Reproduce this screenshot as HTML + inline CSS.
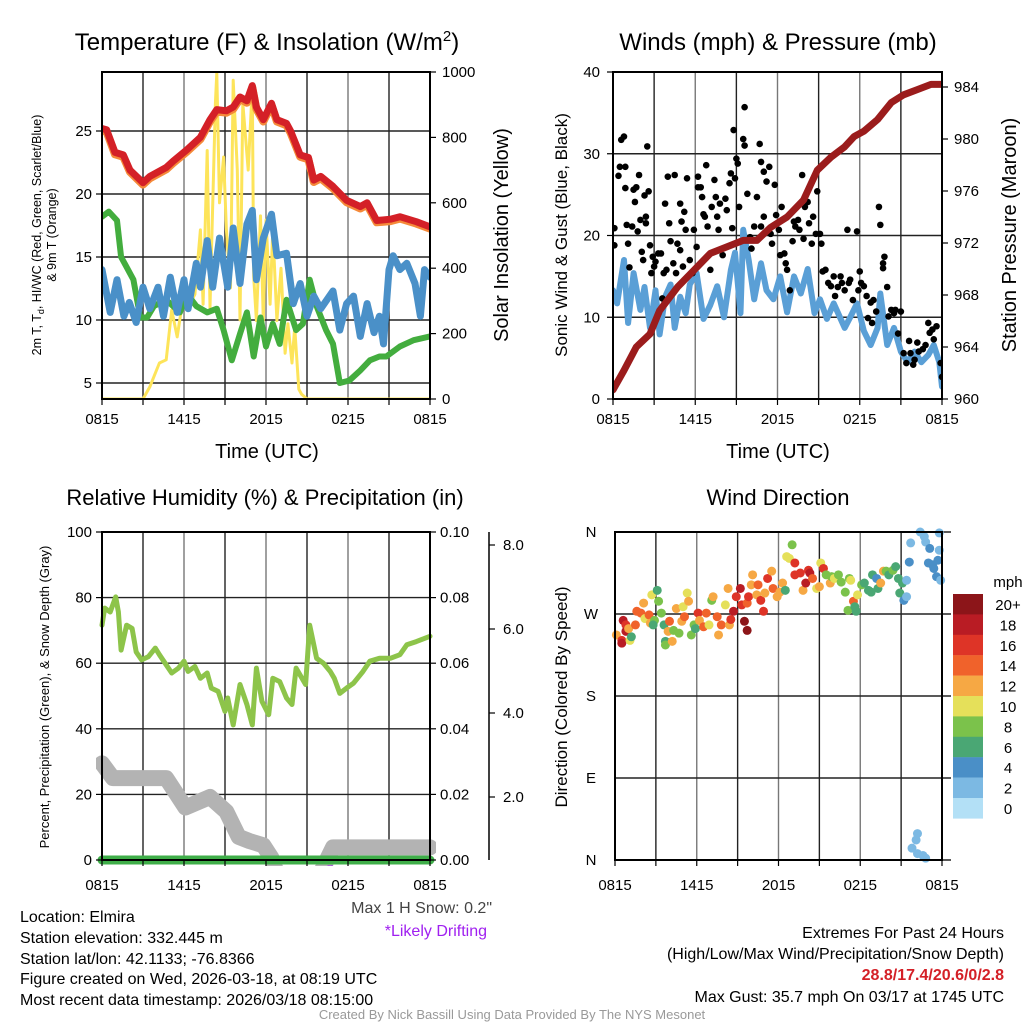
<!DOCTYPE html>
<html><head><meta charset="utf-8"><style>
html,body{margin:0;padding:0;background:#fff;}
svg{display:block;font-family:"Liberation Sans",sans-serif;}
</style></head><body>
<svg id="fig" width="1024" height="1024" viewBox="0 0 1024 1024" xmlns="http://www.w3.org/2000/svg">
<defs>
<clipPath id="c1"><rect x="102" y="72" width="328" height="327"/></clipPath>
<clipPath id="c2"><rect x="613" y="72" width="329" height="327"/></clipPath>
<clipPath id="c3"><rect x="96" y="532" width="340" height="334"/></clipPath>
<clipPath id="c4"><rect x="600" y="525" width="352" height="345"/></clipPath>
</defs>
<g id="grids"></g>
<g id="series"></g>
<g id="axes"></g>
<g id="texts">
<text x="267" y="50" font-size="24" text-anchor="middle">Temperature (F) &amp; Insolation (W/m<tspan dy="-9" font-size="15">2</tspan><tspan dy="9">)</tspan></text>
<text x="778" y="50" font-size="24" text-anchor="middle">Winds (mph) &amp; Pressure (mb)</text>
<text x="265" y="505" font-size="22" text-anchor="middle">Relative Humidity (%) &amp; Precipitation (in)</text>
<text x="778" y="505" font-size="22" text-anchor="middle">Wind Direction</text>
<text x="267" y="458" font-size="20" text-anchor="middle">Time (UTC)</text>
<text x="778" y="458" font-size="20" text-anchor="middle">Time (UTC)</text>
<text transform="translate(41,235) rotate(-90)" font-size="12.5" text-anchor="middle">2m T, T<tspan dy="3" font-size="9">d</tspan><tspan dy="-3">, HI/WC (Red, Green, Scarlet/Blue)</tspan></text>
<text transform="translate(56,235) rotate(-90)" font-size="12.5" text-anchor="middle">&amp; 9m T (Orange)</text>
<text transform="translate(508,235) rotate(-90)" font-size="20" text-anchor="middle">Solar Insolation (Yellow)</text>
<text transform="translate(567,235) rotate(-90)" font-size="17" text-anchor="middle">Sonic Wind &amp; Gust (Blue, Black)</text>
<text transform="translate(1016,235) rotate(-90)" font-size="20" text-anchor="middle">Station Pressure (Maroon)</text>
<text transform="translate(49,697) rotate(-90)" font-size="13" text-anchor="middle">Percent, Precipitation (Green), &amp; Snow Depth (Gray)</text>
<text transform="translate(567,697) rotate(-90)" font-size="17" text-anchor="middle">Direction (Colored By Speed)</text>
<text x="492" y="913" font-size="16" fill="#444" text-anchor="end">Max 1 H Snow: 0.2"</text>
<text x="487" y="936" font-size="16" fill="#a020f0" text-anchor="end">*Likely Drifting</text>
<text x="20" y="922" font-size="16">Location: Elmira</text>
<text x="20" y="943" font-size="16">Station elevation: 332.445 m</text>
<text x="20" y="964" font-size="16">Station lat/lon: 42.1133; -76.8366</text>
<text x="20" y="984" font-size="16">Figure created on Wed, 2026-03-18, at 08:19 UTC</text>
<text x="20" y="1005" font-size="16">Most recent data timestamp: 2026/03/18 08:15:00</text>
<text x="1004" y="938" font-size="16" text-anchor="end">Extremes For Past 24 Hours</text>
<text x="1004" y="959" font-size="16" text-anchor="end">(High/Low/Max Wind/Precipitation/Snow Depth)</text>
<text x="1004" y="980" font-size="16" font-weight="bold" fill="#d42027" text-anchor="end">28.8/17.4/20.6/0/2.8</text>
<text x="1004" y="1002" font-size="16" text-anchor="end">Max Gust: 35.7 mph On 03/17 at 1745 UTC</text>
<text x="512" y="1019" font-size="13" fill="#999" text-anchor="middle">Created By Nick Bassill Using Data Provided By The NYS Mesonet</text>
<text x="1008" y="587" font-size="15" text-anchor="middle">mph</text>
</g>
</svg>
<script>
// ---- shared time axis ----
const xTickLabels = ["0815","1415","2015","0215","0815"];
// ---- Panel 1: temperature & insolation ----
const tempHours = [0,0.34,0.95,1.56,2.05,3.0,3.5,4.7,5.2,6.2,7.2,7.9,8.4,9.1,9.6,10.1,10.6,11.0,11.3,11.8,12.4,12.8,13.5,13.8,14.5,15.1,15.5,16.0,16.9,17.9,18.9,19.4,20.1,21.1,21.8,23.0,24];
const tempValues = [25.2,25.1,23.3,23.1,21.9,20.9,21.4,22.1,22.6,23.5,24.5,25.9,26.7,26.6,26.9,27.7,27.4,28.6,26.9,25.9,27.2,25.9,25.6,25.0,23.1,22.9,21.1,21.4,20.6,19.5,19.0,19.3,17.9,18.0,18.2,17.8,17.4];
const dewHours = [0,0.5,1.1,1.4,1.8,2.3,2.8,3.3,3.8,4.7,5.7,6.2,6.9,7.7,8.4,8.9,9.5,10.1,10.6,11.1,11.6,12.0,12.5,13.0,13.5,14.2,14.7,15.2,15.7,16.4,16.9,17.4,18.1,18.9,19.6,20.3,20.8,21.8,22.8,24];
const dewValues = [18.2,18.6,17.9,15.0,14.2,13.2,10.2,10.2,11.1,11.6,10.6,12.1,11.1,10.6,10.9,9.2,6.8,8.9,10.6,7.1,10.2,7.9,9.7,8.1,11.6,9.2,9.7,13.2,11.1,9.2,8.1,5.0,5.2,6.0,6.8,7.1,7.1,7.9,8.4,8.7];
const wcHours = [0,0.6,1.1,1.6,2.0,2.5,3.0,3.5,4.1,4.5,5.0,5.5,6.0,6.3,6.9,7.2,7.7,8.1,8.6,9.2,9.6,10.1,10.6,11.0,11.3,11.8,12.4,12.8,13.5,14.0,14.5,15.0,15.5,16.0,16.9,17.4,17.9,18.4,18.9,19.4,19.9,20.3,20.6,21.0,21.3,21.8,22.3,22.9,23.3,23.6,24];
const wcValues = [14.0,10.6,13.2,10.3,11.4,9.8,12.6,10.9,12.6,10.3,13.4,10.6,13.2,10.9,14.5,12.6,16.3,12.6,16.5,12.6,17.3,12.9,17.6,18.7,13.2,16.5,18.4,15.1,15.3,11.3,12.9,10.3,11.9,10.9,12.3,9.2,11.3,11.9,8.7,11.3,9.0,10.3,8.1,14.0,15.1,14.0,14.5,12.9,10.3,14.0,13.4];
const solarHours = [0,3.0,3.5,4.2,4.7,5.1,5.5,6.1,6.4,6.8,7.2,7.4,7.7,7.9,8.3,8.4,8.6,8.9,9.1,9.4,9.6,9.9,10.1,10.3,10.7,11.0,11.1,11.3,11.6,11.8,12.0,12.3,12.5,12.8,13.1,13.4,13.6,13.9,14.1,14.4,14.6,15.0,24];
const solarValues = [0,0,37,110,120,272,190,355,290,320,517,290,760,280,905,997,600,740,517,340,975,700,242,905,700,955,373,240,560,240,547,290,520,240,400,140,230,110,220,30,15,0,0];
const tempTicks = [5,10,15,20,25];
const solarTicks = [0,200,400,600,800,1000];
// ---- Panel 2: winds & pressure ----
const windHours = [0,0.3,0.8,1.1,1.5,2.0,2.3,2.7,3.1,3.4,3.8,4.2,4.5,4.9,5.3,5.6,6.1,6.6,7.1,7.6,8.1,8.6,8.9,9.3,9.5,9.9,10.3,10.8,11.2,11.7,12.2,12.7,13.2,13.7,14.2,14.7,15.1,15.6,16.1,16.9,17.3,17.8,18.3,18.8,19.3,19.5,20.0,20.5,21.0,21.5,22.0,22.5,23.0,23.4,23.8,24];
const windValues = [13.3,11.7,17.0,9.3,15.4,10.9,13.7,8.7,13.3,7.9,12.5,14.0,8.7,12.5,10.5,14.0,15.4,9.8,11.5,13.8,10.0,15.8,17.9,10.5,20.7,17.0,12.2,16.6,13.3,12.2,15.0,10.6,15.0,12.9,15.9,10.5,12.2,9.8,11.7,8.7,10.0,11.7,8.3,6.6,8.7,12.9,6.6,8.7,5.8,4.5,5.8,4.5,5.4,6.6,4.5,1.5];
const gustHours = [0.1,0.1,0.6,0.8,0.5,0.9,0.4,0.9,1.0,1.1,1.2,1.4,1.5,1.6,1.7,1.8,1.9,2.0,2.1,2.2,2.3,2.4,2.4,2.5,2.6,2.7,2.8,2.9,3.0,3.1,3.3,3.5,3.6,3.7,3.8,3.9,4.0,4.1,4.2,4.4,4.5,4.6,4.7,4.9,4.9,5.0,5.1,5.2,5.3,5.4,5.6,5.8,5.9,6.1,6.2,6.2,6.4,6.5,6.6,6.7,6.8,6.9,7.1,7.2,7.4,7.5,7.6,7.7,7.8,8.0,8.2,8.3,8.5,8.6,8.7,8.8,8.9,9.0,9.1,9.2,9.5,9.6,9.6,9.8,10.0,10.1,10.3,10.5,10.7,10.8,10.8,11.0,11.0,11.2,11.4,11.5,11.6,11.8,11.9,12.1,12.2,12.3,12.5,12.6,12.7,12.9,13.1,13.2,13.3,13.5,13.6,13.8,13.9,14.0,14.2,14.3,14.5,14.6,14.8,14.9,15.1,15.2,15.3,15.5,15.7,15.9,16.1,16.2,16.4,16.6,16.7,16.9,17.1,17.2,17.3,17.5,17.8,17.9,18.0,18.1,18.3,18.5,18.6,18.8,18.9,19.0,19.2,19.4,19.5,19.7,19.7,19.8,20.0,20.1,20.3,20.5,20.6,20.8,21.0,21.2,21.4,21.6,21.7,21.9,22.0,22.2,22.3,22.6,22.8,23.0,23.1,23.3,23.4,23.6,23.9,24.0];
const gustValues = [20.9,18.8,31.7,32.1,28.4,28.4,27.3,25.8,21.3,19.0,16.1,21.1,25.6,24.1,25.9,20.5,27.4,21.9,18.0,17.0,24.9,22.3,21.5,30.9,25.4,18.8,15.4,17.4,16.2,16.8,17.8,17.8,12.3,15.4,23.9,15.8,27.2,21.5,19.3,16.6,27.4,15.4,19.0,18.2,23.9,21.7,16.2,22.9,20.7,27.0,17.0,15.4,20.7,18.6,25.9,27.2,25.9,24.7,22.6,22.3,28.6,21.1,15.8,23.5,26.8,24.7,22.3,20.7,23.9,17.6,24.5,23.1,26.4,27.6,20.9,32.9,27.0,29.4,28.8,23.5,31.8,35.7,31.0,25.1,19.8,18.4,21.1,24.7,31.2,21.1,29.0,22.3,27.8,26.6,28.4,20.2,19.0,26.2,22.5,20.7,17.6,23.5,17.8,16.6,15.8,13.3,19.3,21.7,21.1,21.9,20.7,27.4,19.6,23.5,24.1,21.5,19.0,22.3,20.2,25.4,20.2,19.0,15.6,15.8,14.2,13.8,15.0,12.6,13.7,15.0,14.2,13.3,20.7,14.2,14.6,12.1,20.5,13.3,15.6,14.2,13.8,12.6,9.9,11.8,9.3,12.1,10.7,23.5,21.3,16.6,16.0,17.4,13.7,10.1,10.9,10.5,10.9,8.0,10.7,5.6,4.4,7.1,5.6,4.2,4.8,6.9,5.8,6.1,6.6,9.3,8.1,8.5,7.3,8.9,4.4,2.7];
const presHours = [0,0.8,1.7,2.7,3.4,4.7,5.9,7.1,8.3,9.5,10.5,11.5,12.7,13.9,14.9,15.9,16.9,17.6,18.3,19.3,20.3,21.2,22.2,23.2,24];
const presValues = [960.7,962.2,964.0,965.0,966.8,968.6,969.9,971.2,971.7,972.2,972.2,973.2,974.0,975.3,977.6,978.6,979.4,980.2,980.6,981.5,982.8,983.4,983.8,984.2,984.2];
const windTicks = [0,10,20,30,40];
const presTicks = [960,964,968,972,976,980,984];
// ---- Panel 3: humidity, precip, snow ----
const rhHours = [0,0.2,0.6,1.0,1.2,1.4,1.8,2.2,2.5,2.9,3.4,3.9,4.2,4.7,5.1,5.6,6.0,6.3,6.8,7.2,7.7,8.0,8.5,9.0,9.2,9.6,10.1,10.6,11.0,11.3,11.7,12.2,12.5,13.0,13.5,13.9,14.2,14.9,15.2,15.7,16.2,16.7,17.0,17.4,17.9,18.4,19.1,19.6,20.3,21.1,21.8,22.3,23.0,24];
const rhValues = [71.6,76.8,75.6,80.2,75.6,64.0,71.6,70.6,63.4,61.0,62.0,64.6,62.6,59.5,57.0,58.5,60.6,57.5,59.0,55.4,57.0,52.4,51.4,45.3,49.4,41.2,53.5,47.4,41.2,58.5,48.4,44.3,55.4,54.4,49.4,47.4,58.5,53.5,71.6,61.5,60.0,57.5,55.4,50.8,52.4,53.9,57.5,60.6,61.5,61.5,62.6,65.6,66.6,68.2];
const precipHours = [0,24];
const precipValues = [0,0];
const snowHours = [0,0.8,4.7,6.1,7.9,9.1,10.0,10.8,11.8,12.4,13.0,15.7,16.9,24];
const snowValues = [2.8,2.45,2.45,1.75,2.0,1.65,1.05,0.95,0.85,0.55,0,0,0.8,0.8];
const driftHours = [16.6,16.8];
const driftValues = [0.3,0.3];
const rhTicks = [0,20,40,60,80,100];
const precipTicks = [0.00,0.02,0.04,0.06,0.08,0.10];
const snowTicks = [2.0,4.0,6.0,8.0];
// ---- Panel 4: wind direction ----
const dirHours = [0.1,0.5,0.6,0.8,0.8,0.5,1.1,1.2,1.0,1.5,1.6,1.9,2.1,2.2,2.5,2.6,2.7,2.9,2.8,3.1,3.2,3.4,3.6,3.7,3.7,3.9,4.0,4.2,4.3,4.5,4.7,4.9,5.0,5.1,5.3,5.4,5.6,5.8,5.9,6.1,6.2,6.5,6.7,6.9,7.1,7.2,7.5,7.6,7.8,8.1,8.3,8.4,8.5,8.7,8.9,9.2,9.3,9.5,9.7,9.7,9.8,10.0,10.1,10.5,10.4,10.7,10.9,11.0,11.2,11.5,11.6,11.9,12.1,12.3,12.5,12.6,12.8,13.0,13.2,13.2,13.6,13.8,14.0,14.2,14.3,14.5,14.8,15.0,15.1,15.3,15.5,15.8,15.9,16.1,16.4,16.6,16.9,17.1,17.2,17.3,17.5,17.6,17.7,17.8,18.1,18.3,18.6,18.8,18.9,19.2,19.3,19.5,19.7,19.9,20.1,20.4,20.6,20.8,20.9,21.1,21.2,21.4,21.4,21.6,21.7,22.4,22.7,22.8,23.1,23.3,23.4,23.6,23.7,23.8,23.8,23.9,23.0,22.2,22.1,21.8,22.2,22.6,22.8];
const dirValues = [247,241,263,258,251,238,241,245,254,258,273,271,282,265,269,260,291,263,258,296,284,271,258,240,236,251,262,240,252,276,249,262,278,267,293,284,247,258,254,271,263,256,271,258,285,289,267,247,258,280,298,258,264,273,289,298,280,262,252,282,289,302,313,302,291,285,273,293,309,317,298,289,294,304,296,333,331,346,326,313,315,296,304,318,315,309,298,300,326,320,313,304,311,309,313,305,294,274,309,307,284,278,273,291,302,304,296,294,313,309,298,304,317,317,313,318,322,309,293,304,285,289,307,327,348,360,355,349,342,324,320,311,329,340,359,307,326,29,22,13,7,5,2];
const dirSpeeds = [12,16,18,16,18,18,10,6,12,14,14,14,12,10,14,12,10,8,6,6,8,8,6,6,8,12,14,12,8,12,8,12,10,14,10,12,8,8,6,16,12,14,14,10,8,12,14,12,14,10,12,12,16,18,16,18,16,20,20,14,16,12,12,14,12,16,16,12,16,12,14,12,12,12,6,10,10,8,16,16,16,12,18,16,18,14,10,12,10,16,8,12,8,10,8,8,8,8,8,10,14,6,6,10,8,6,6,6,6,4,6,12,12,8,6,8,6,6,6,6,4,2,2,4,2,2,2,2,4,4,4,4,4,2,2,2,4,2,2,2,2,2,2];
const dirTickLabels = ["N","E","S","W","N"];
const dirTicks = [0,90,180,270,360];
const speedBinLabels = ["20+","18","16","14","12","10","8","6","4","2","0"];
const speedBinColors = ["#8c1519","#b91c24","#de3427","#f0622b","#f6a844","#e5e05a","#7bc24b","#4aa774","#4a8fc7","#7cb9e3","#b3e0f6"];

const NS="http://www.w3.org/2000/svg";
function mk(tag, parent, attrs){const e=document.createElementNS(NS,tag);for(const k in attrs)e.setAttribute(k,attrs[k]);parent.appendChild(e);return e;}
const G=document.getElementById('grids'), S=document.getElementById('series'), A=document.getElementById('axes');

function panel(x0,x1,y0,y1){return {x0,x1,y0,y1,x:h=>x0+h*(x1-x0)/24};}
const P1=panel(102,430,72,399), P2=panel(613,942,72,399), P3=panel(102,430,532,860), P4=panel(615,942,532,860);
const yT=t=>131-(t-25)*12.6, yS=v=>399-v*0.327;
const yW=v=>399-v*8.175, yP=p=>399-(p-960)*13;
const yRH=v=>860-v*3.28, yPr=v=>860-v*3280, ySn=v=>881-v*42;
const yD=d=>860-d*0.9111;

function vgrid(P){
  for(let i=1;i<8;i++){const x=P.x(i*3);
    const l=mk('line',G,{x1:x,x2:x,y1:P.y0,y2:P.y1,stroke:i%2?'#222':'#777','stroke-width':1.4});
    
    }
}
function hgrid(P,ys,col,x2){
  ys.forEach(y=>{const l=mk('line',G,{x1:P.x0,x2:x2||P.x1,y1:y,y2:y,stroke:col||'#222','stroke-width':1.4});
    
    });
}
function border(P,name){
  const r=mk('rect',A,{x:P.x0,y:P.y0,width:P.x1-P.x0,height:P.y1-P.y0,fill:'none',stroke:'#000','stroke-width':2});
  
  
}
function xticks(P,ly){
  for(let i=0;i<=8;i++){const x=P.x(i*3);
    const t=mk('line',A,{x1:x,x2:x,y1:P.y1,y2:P.y1+6,stroke:'#000','stroke-width':1.2});
    
    }
  xTickLabels.forEach((s,i)=>{const tx=mk('text',A,{x:P.x(i*6),y:ly,'font-size':15,'text-anchor':'middle'});tx.textContent=s;
    
    });
}
function yticks(vals,fy,x,side,fmt,lx,anchor){
  vals.forEach(v=>{const y=fy(v);
    const t=mk('line',A,{x1:x,x2:x+(side<0?-6:6),y1:y,y2:y,stroke:'#000','stroke-width':1.2});
    
    
    const tx=mk('text',A,{x:lx,y:y+5,'font-size':15,'text-anchor':anchor});tx.textContent=fmt(v);
    
    });
}
function line(P,hs,vs,fy,col,w,clip,name){
  const pts=hs.map((h,i)=>P.x(h).toFixed(1)+','+fy(vs[i]).toFixed(1)).join(' ');
  const attrs={points:pts,fill:'none',stroke:col,'stroke-width':w,'stroke-linejoin':'round','stroke-linecap':'round'};
  if(clip) attrs['clip-path']='url(#'+clip+')';
  const p=mk('polyline',S,attrs);
  
  
}
function dots(P,hs,vs,fy,cols,r,clip,name){
  hs.forEach((h,i)=>{const c=mk('circle',S,{cx:P.x(h),cy:fy(vs[i]),r:r,fill:typeof cols==='string'?cols:cols[i],'clip-path':'url(#'+clip+')'});
    
    });
}

// Panel 1
vgrid(P1); hgrid(P1,tempTicks.map(yT));
line(P1,solarHours,solarValues,yS,'#fde45a',3,'c1','solar-insolation-line');
line(P1,dewHours,dewValues,yT,'#43ad3e',6,'c1','dewpoint-line');
line(P1,wcHours,wcValues,yT,'#4a90c8',7,'c1','wind-chill-line');
line(P1,tempHours,tempValues.map(v=>v-0.15),yT,'#f58a3a',8,'c1','9m-temperature-line');
line(P1,tempHours,tempValues,yT,'#d42027',7,'c1','2m-temperature-line');
border(P1,'temperature-plot-area'); xticks(P1,424);
yticks(tempTicks,yT,P1.x0,-1,v=>v,92,'end');
yticks(solarTicks,yS,P1.x1,1,v=>v,442,'start');

// Panel 2
vgrid(P2); hgrid(P2,windTicks.slice(1,4).map(yW));
line(P2,windHours,windValues,yW,'#5a9fd6',6,'c2','sonic-wind-line');
dots(P2,gustHours,gustValues,yW,'#000',3.3,'c2','gust-point');
line(P2,presHours,presValues,yP,'#9b1c1c',7,'c2','pressure-line');
border(P2,'winds-plot-area'); xticks(P2,424);
yticks(windTicks,yW,P2.x0,-1,v=>v,600,'end');
yticks(presTicks,yP,P2.x1,1,v=>v,954,'start');

// Panel 3
vgrid(P3); hgrid(P3,[20,40,60,80].map(yRH));
line(P3,snowHours,snowValues,ySn,'#b3b3b3',16,'c3','snow-depth-line');
line(P3,rhHours,rhValues,yRH,'#8dc44a',5,'c3','relative-humidity-line');
dots(P3,driftHours,driftValues,ySn,'#a020f0',3,'c3','drifting-marker');
border(P3,'humidity-plot-area');
line(P3,precipHours,precipValues,yPr,'#3fae49',9,null,'precipitation-line');
xticks(P3,890);
yticks(rhTicks,yRH,P3.x0,-1,v=>v,92,'end');
yticks(precipTicks,yPr,P3.x1,1,v=>v.toFixed(2),440,'start');
const sax=mk('line',A,{x1:489,x2:489,y1:532,y2:860,stroke:'#000','stroke-width':1.5});


yticks(snowTicks,ySn,489,1,v=>v.toFixed(1),503,'start');

// Panel 4
vgrid(P4); hgrid(P4,dirTicks.map(yD),'#222',951);
dots(P4,dirHours,dirValues,yD,dirSpeeds.map(s=>speedBinColors[10-Math.min(10,Math.round(s/2))]),4.5,'c4','wind-direction-point');
border(P4,'wind-direction-plot-area'); xticks(P4,890);
dirTicks.forEach((d,i)=>{const tx=mk('text',A,{x:591,y:yD(d)+5,'font-size':15,'text-anchor':'middle'});tx.textContent=dirTickLabels[i];
  
  });
speedBinColors.forEach((c,i)=>{const y=594+i*20.4;
  const r=mk('rect',A,{x:953,y:y,width:30,height:20.6,fill:c});
  
  
  const tx=mk('text',A,{x:1008,y:y+16,'font-size':15,'text-anchor':'middle'});tx.textContent=speedBinLabels[i];
  
  });
</script>
</body></html>
